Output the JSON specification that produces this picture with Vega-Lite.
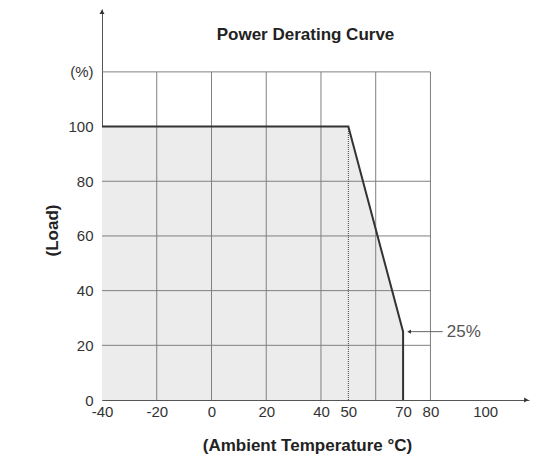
{
  "$schema": "https://vega.github.io/schema/vega-lite/v6.json",
  "autosize": {"type": "none"},
  "padding": {"left": 102, "top": 9, "right": 7, "bottom": 57},
  "width": 427,
  "height": 391,
  "background": "white",
  "config": {"font": "Liberation Sans", "view": {"stroke": null}},
  "title": {"text": "Power Derating Curve", "fontSize": 17, "fontWeight": "bold", "color": "#222", "anchor": "middle", "offset": -35, "dx": -10},
  "datasets": {
    "curve": [
      {"temp": -40, "load": 100, "o": 1},
      {"temp": 50, "load": 100, "o": 2},
      {"temp": 70, "load": 25, "o": 3},
      {"temp": 70, "load": 0, "o": 4}
    ],
    "fill": [
      {"temp": -40, "load": 100},
      {"temp": 50, "load": 100},
      {"temp": 70, "load": 25}
    ],
    "grid": [
      {"x": -20, "x2": -20, "y": 0, "y2": 120},
      {"x": 0, "x2": 0, "y": 0, "y2": 120},
      {"x": 20, "x2": 20, "y": 0, "y2": 120},
      {"x": 40, "x2": 40, "y": 0, "y2": 120},
      {"x": 60, "x2": 60, "y": 0, "y2": 120},
      {"x": 80, "x2": 80, "y": 0, "y2": 120},
      {"x": -40, "x2": 80, "y": 20, "y2": 20},
      {"x": -40, "x2": 80, "y": 40, "y2": 40},
      {"x": -40, "x2": 80, "y": 60, "y2": 60},
      {"x": -40, "x2": 80, "y": 80, "y2": 80},
      {"x": -40, "x2": 80, "y": 120, "y2": 120}
    ],
    "arrows": [
      {"x": 115, "y": 0, "shape": "triangle-right"},
      {"x": -40, "y": 142, "shape": "triangle-up"}
    ],
    "note": [
      {"x": 72.2, "x2": 84.5, "y": 25, "label": "25%"}
    ]
  },
  "layer": [
    {
      "data": {"name": "fill"},
      "mark": {"type": "area", "color": "#ececec"},
      "encoding": {
        "x": {"field": "temp", "type": "quantitative", "scale": {"domain": [-40, 116], "nice": false, "zero": false},
          "axis": {"values": [-40, -20, 0, 20, 40, 50, 70, 80, 100], "labelExpr": "replace(datum.label, '\u2212', '-')", "grid": false, "ticks": false, "domainColor": "#555", "domainWidth": 1, "labelFontSize": 15, "labelColor": "#333", "labelPadding": 4, "labelFlush": false,
            "title": "(Ambient Temperature  °C)", "titleFontSize": 17, "titleFontWeight": "bold", "titleColor": "#222", "titleX": 205, "titleY": 45, "titleBaseline": "middle", "titleAlign": "center"}},
        "y": {"field": "load", "type": "quantitative", "scale": {"domain": [0, 143], "nice": false},
          "axis": {"values": [0, 20, 40, 60, 80, 100, 120], "labelExpr": "datum.value == 120 ? '(%)' : datum.label", "grid": false, "ticks": false, "domainColor": "#555", "domainWidth": 1, "labelFontSize": 15, "labelColor": "#333", "labelPadding": 9, "labelFlush": false,
            "title": "(Load)", "titleFontSize": 17, "titleFontWeight": "bold", "titleColor": "#222", "titleX": -50, "titleY": 221, "titleBaseline": "middle", "titleAlign": "center", "titleAngle": -90}}
      }
    },
    {
      "data": {"name": "grid"},
      "mark": {"type": "rule", "color": "#808080", "strokeWidth": 1},
      "encoding": {
        "x": {"field": "x", "type": "quantitative"},
        "x2": {"field": "x2"},
        "y": {"field": "y", "type": "quantitative"},
        "y2": {"field": "y2"}
      }
    },
    {
      "data": {"values": [{"x": 50, "y": 0, "y2": 100}]},
      "mark": {"type": "rule", "color": "#444", "strokeWidth": 1, "strokeDash": [1, 1]},
      "encoding": {
        "x": {"field": "x", "type": "quantitative"},
        "y": {"field": "y", "type": "quantitative"},
        "y2": {"field": "y2"}
      }
    },
    {
      "data": {"name": "curve"},
      "mark": {"type": "line", "color": "#333", "strokeWidth": 2},
      "encoding": {
        "x": {"field": "temp", "type": "quantitative"},
        "y": {"field": "load", "type": "quantitative"},
        "order": {"field": "o"}
      }
    },
    {
      "data": {"name": "arrows"},
      "mark": {"type": "point", "filled": true, "color": "#333", "size": 25, "opacity": 1},
      "encoding": {
        "x": {"field": "x", "type": "quantitative"},
        "y": {"field": "y", "type": "quantitative"},
        "shape": {"field": "shape", "type": "nominal", "scale": null}
      }
    },
    {
      "data": {"name": "note"},
      "layer": [
        {
          "mark": {"type": "rule", "color": "#666", "strokeWidth": 1},
          "encoding": {
            "x": {"field": "x", "type": "quantitative"},
            "x2": {"field": "x2"},
            "y": {"field": "y", "type": "quantitative"}
          }
        },
        {
          "mark": {"type": "point", "shape": "triangle-left", "filled": true, "color": "#333", "size": 18, "opacity": 1},
          "encoding": {
            "x": {"field": "x", "type": "quantitative"},
            "y": {"field": "y", "type": "quantitative"}
          }
        },
        {
          "mark": {"type": "text", "align": "left", "baseline": "middle", "dx": 4, "fontSize": 17, "color": "#555"},
          "encoding": {
            "x": {"field": "x2", "type": "quantitative"},
            "y": {"field": "y", "type": "quantitative"},
            "text": {"field": "label"}
          }
        }
      ]
    }
  ]
}
